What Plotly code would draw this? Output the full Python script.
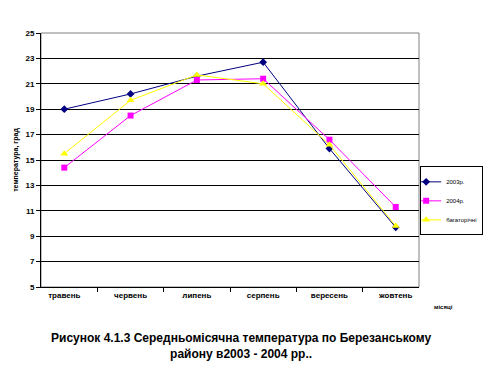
import plotly.graph_objects as go

months = ["травень", "червень", "липень", "серпень", "вересень", "жовтень"]
t2003 = [19.0, 20.2, 21.6, 22.7, 15.9, 9.7]
t2004 = [14.4, 18.5, 21.3, 21.4, 16.6, 11.3]
tmulti = [15.5, 19.7, 21.7, 21.0, 16.2, 9.8]
series_names = ["2003р.", "2004р.", "багаторічні"]
y_ticks = [5, 7, 9, 11, 13, 15, 17, 19, 21, 23, 25]

FONT = "Liberation Sans"

fig = go.Figure()
fig.add_trace(go.Scatter(x=months, y=t2003, name=series_names[0], mode="lines+markers",
                         line=dict(color="#000080", width=1),
                         marker=dict(symbol="diamond", size=6, color="#000080")))
fig.add_trace(go.Scatter(x=months, y=t2004, name=series_names[1], mode="lines+markers",
                         line=dict(color="#FF00FF", width=1),
                         marker=dict(symbol="square", size=6, color="#FF00FF")))
fig.add_trace(go.Scatter(x=months, y=tmulti, name=series_names[2], mode="lines+markers",
                         line=dict(color="#FFFF00", width=1),
                         marker=dict(symbol="triangle-up", size=7, color="#FFFF00")))

fig.update_layout(
    width=491, height=367,
    margin=dict(l=33, r=80, t=25, b=88, autoexpand=False),
    paper_bgcolor="white", plot_bgcolor="white",
    font=dict(family=FONT, color="black"),
    showlegend=True,
    legend=dict(x=1.003, y=0.475, xanchor="left", yanchor="top",
                bordercolor="black", borderwidth=1, bgcolor="white",
                font=dict(family=FONT, size=6, color="black"),
                tracegroupgap=0, itemwidth=30, indentation=-15),
)
fig.update_xaxes(type="category", showgrid=False, showline=True, linecolor="black", linewidth=1,
                 ticks="outside", ticklen=4, tickcolor="black", tickson="boundaries",
                 tickfont=dict(family=FONT, size=8, color="black", weight="bold"),
                 mirror=False)
fig.update_yaxes(range=[5, 25], tickvals=y_ticks, showgrid=True, gridcolor="black", gridwidth=1.3,
                 showline=True, linecolor="black", linewidth=1, ticks="outside", ticklen=4,
                 tickcolor="black", zeroline=False,
                 tickfont=dict(family=FONT, size=8, color="black", weight="bold"),
                 title=dict(text="температура, град", standoff=6,
                            font=dict(family=FONT, size=7, color="black", weight="bold")))

# gray plot border (top/right)
fig.add_shape(type="rect", xref="paper", yref="paper", x0=0, y0=0, x1=1, y1=1,
              line=dict(color="#808080", width=1), layer="below")

fig.add_annotation(text="місяці", xref="paper", yref="paper", x=1.035, y=-0.08,
                   xanchor="left", yanchor="middle", showarrow=False,
                   font=dict(family=FONT, size=6, color="black", weight="bold"))
fig.add_annotation(text="Рисунок 4.1.3 Середньомісячна температура по Березанському<br>району в2003 - 2004 рр..",
                   xref="paper", yref="paper", x=0.53, y=-0.165, xanchor="center", yanchor="top",
                   showarrow=False, align="center",
                   font=dict(family=FONT, size=12, color="black", weight="bold"))

fig.write_html("out.html")
